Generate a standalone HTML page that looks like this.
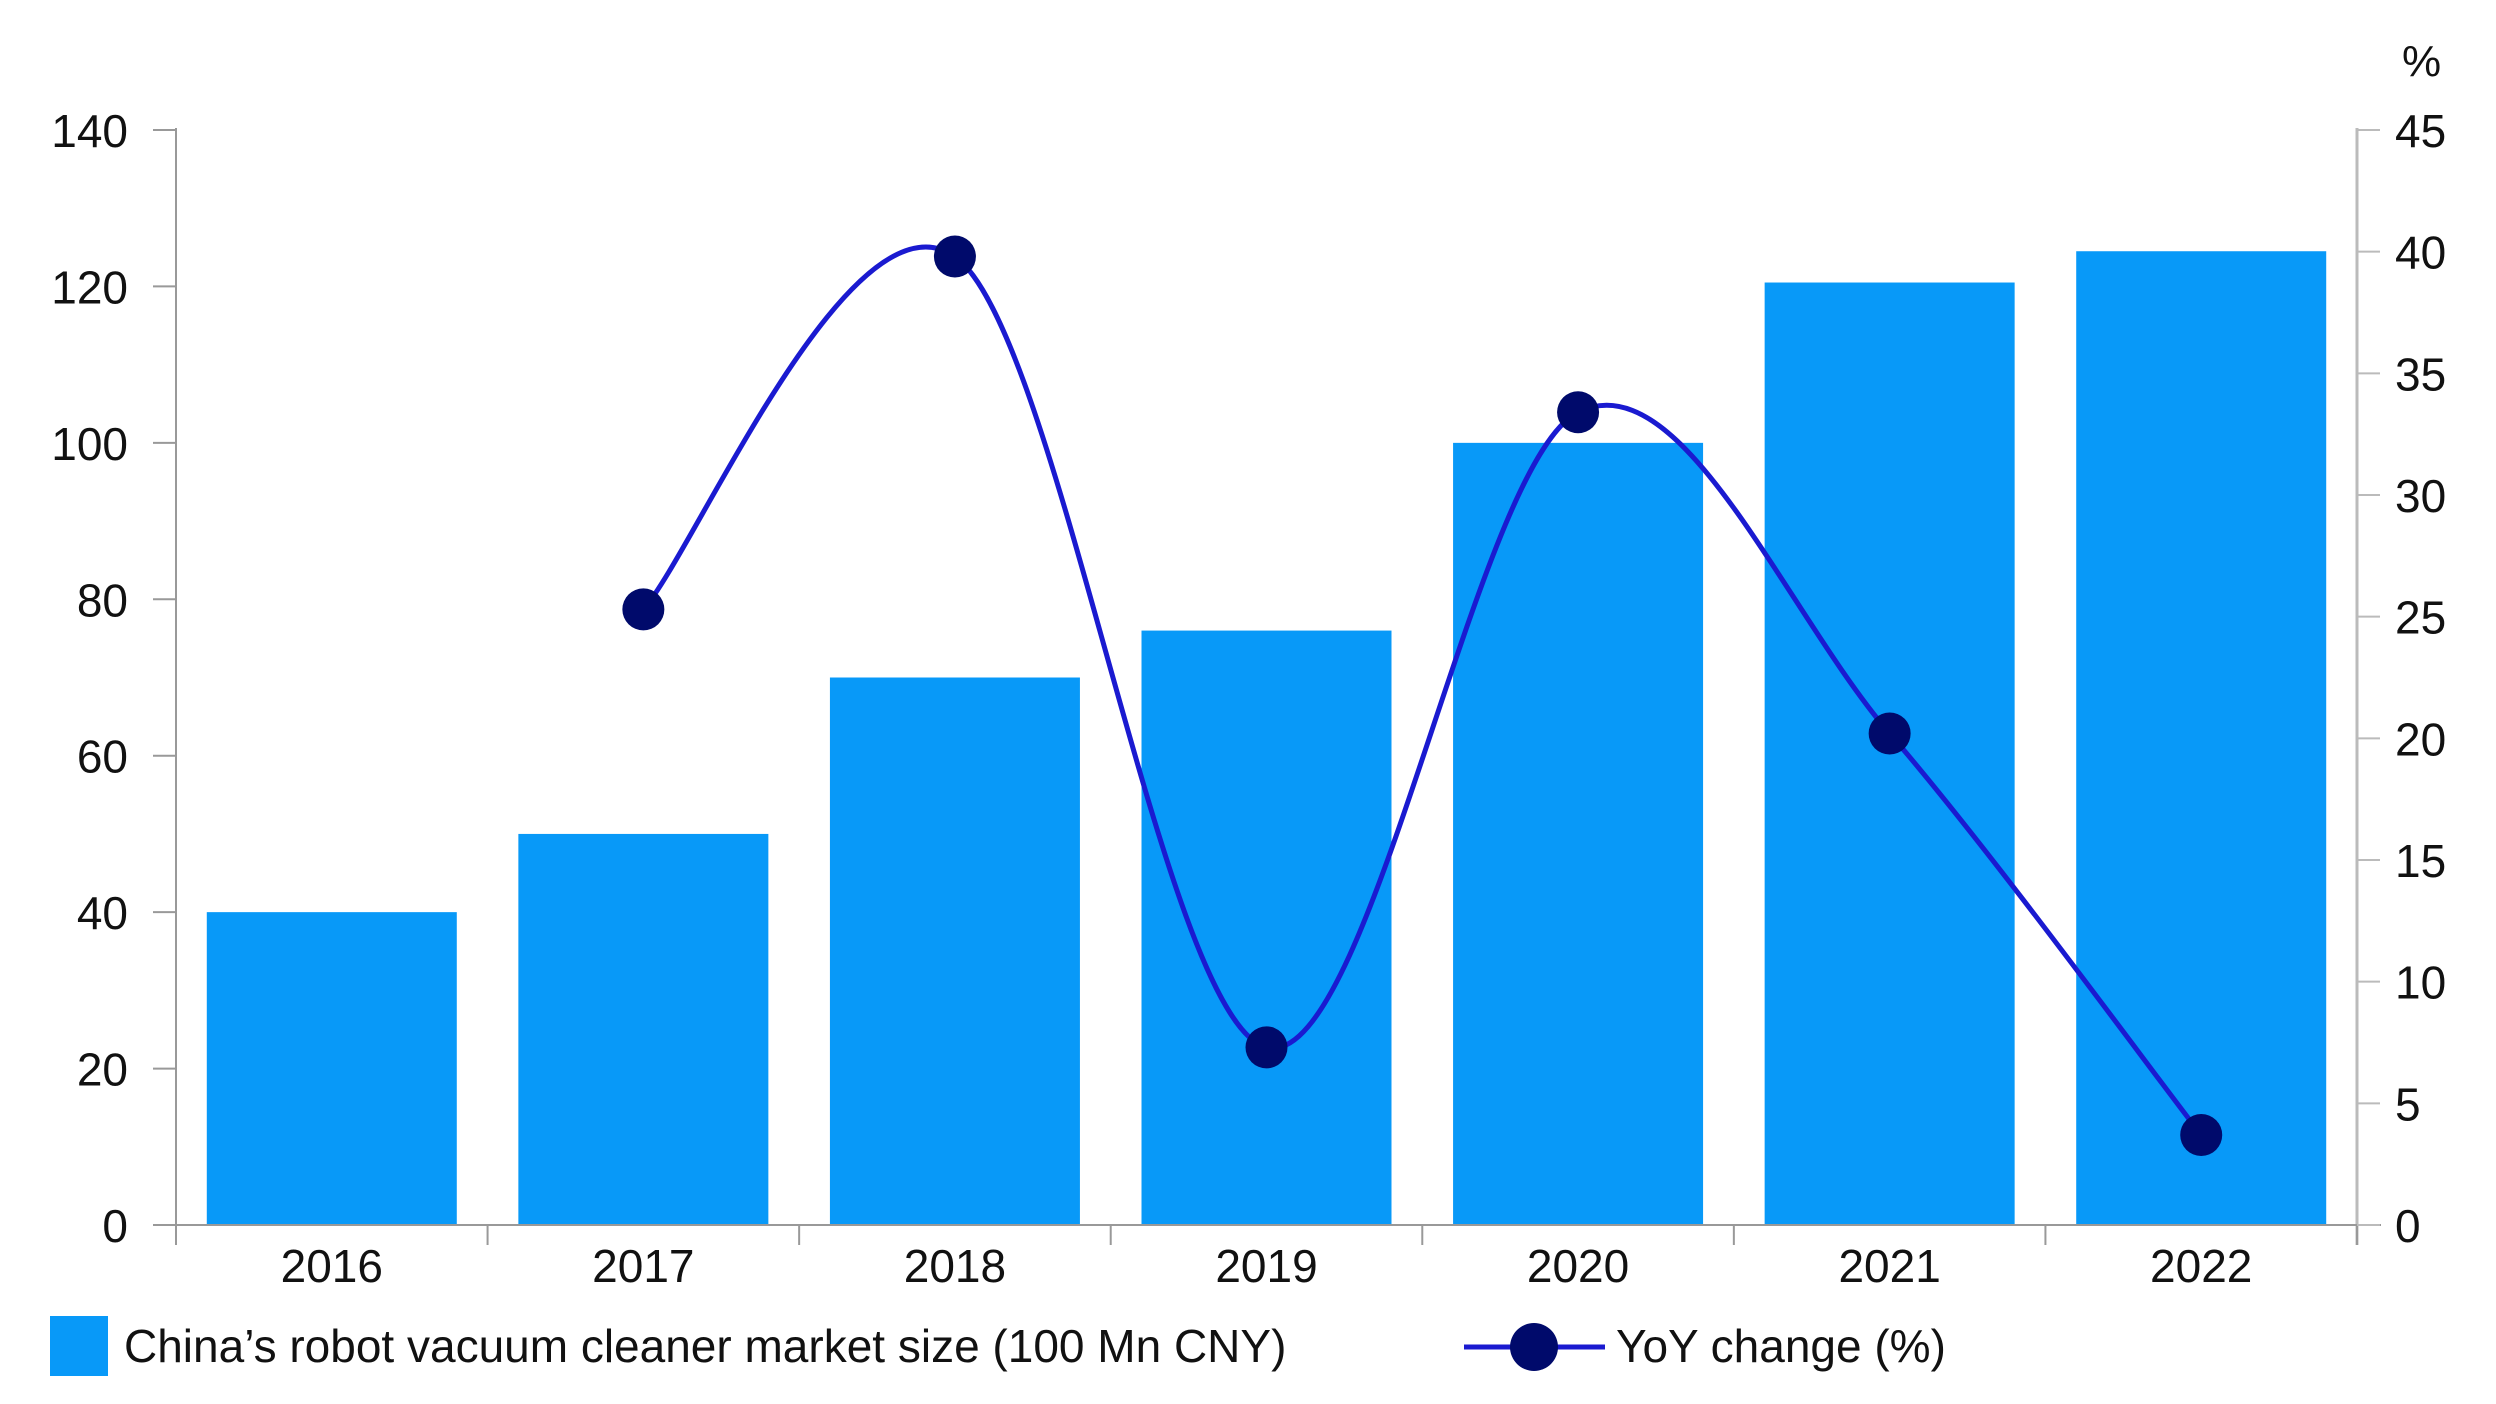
<!DOCTYPE html>
<html><head><meta charset="utf-8"><style>
html,body{margin:0;padding:0;background:#fff;}
svg{display:block;font-family:"Liberation Sans",sans-serif;}
</style></head><body>
<svg id="chart" width="2496" height="1404" viewBox="0 0 2496 1404" xmlns="http://www.w3.org/2000/svg">
<g id="grid"></g>
<g id="bars"></g>
<g id="line"></g>
<g id="axes"></g>
<text x="2402" y="76" font-size="44" fill="#111">%</text>
<g>
<rect x="50" y="1316" width="58" height="60" fill="#0899F8"/>
<text x="124" y="1362" font-size="46" fill="#111">China’s robot vacuum cleaner market size (100 Mn CNY)</text>
<line x1="1464" y1="1347" x2="1605" y2="1347" stroke="#1a1ad0" stroke-width="5"/>
<circle cx="1534" cy="1347" r="24" fill="#000a6b"/>
<text x="1616" y="1362" font-size="46" fill="#111">YoY change (%)</text>
</g>
</svg>
<script>
const categories = ["2016","2017","2018","2019","2020","2021","2022"];
const marketSize = [40, 50, 70, 76, 100, 120.5, 124.5];
const yoyChange = [null, 25.3, 39.8, 7.3, 33.4, 20.2, 3.7];
const leftTicks = [0,20,40,60,80,100,120,140];
const rightTicks = [0,5,10,15,20,25,30,35,40,45];

const NS="http://www.w3.org/2000/svg";
const X0=176, X1=2357, Y0=1225, YT=130;
const bw=(X1-X0)/categories.length;
const yL=v=>Y0-(v/140)*(Y0-YT);
const yR=v=>Y0-(v/45)*(Y0-YT);
const xc=i=>X0+bw*(i+0.5);
function mk(tag,attrs,parent){const e=document.createElementNS(NS,tag);for(const k in attrs)e.setAttribute(k,attrs[k]);parent.appendChild(e);return e;}
const bars=document.getElementById('bars'), axes=document.getElementById('axes'), line=document.getElementById('line');

marketSize.forEach((v,i)=>{
  const r=mk('rect',{x:xc(i)-125,y:yL(v),width:250,height:Y0-yL(v),fill:'#0899F8'},bars);
  
  
});

// axes
let a=mk('line',{x1:X0,y1:YT-2,x2:X0,y2:Y0,stroke:'#999','stroke-width':2},axes);


a=mk('line',{x1:X1,y1:YT-2,x2:X1,y2:Y0+20,stroke:'#bbb','stroke-width':3},axes);


a=mk('line',{x1:X0-20,y1:Y0,x2:X1+24,y2:Y0,stroke:'#999','stroke-width':2},axes);


for(let i=0;i<=categories.length;i++){
  mk('line',{x1:X0+bw*i,y1:Y0,x2:X0+bw*i,y2:Y0+20,stroke:'#999','stroke-width':2},axes);
}
categories.forEach((c,i)=>{
  const t=mk('text',{x:xc(i),y:1282,'font-size':46,'text-anchor':'middle',fill:'#111'},axes);
  t.textContent=c;
  
  
});
leftTicks.forEach(v=>{
  mk('line',{x1:X0-23,y1:yL(v),x2:X0,y2:yL(v),stroke:'#999','stroke-width':2},axes);
  const t=mk('text',{x:128,y:yL(v)+17,'font-size':46,'text-anchor':'end',fill:'#111'},axes);
  t.textContent=v;
  
  
});
rightTicks.forEach(v=>{
  mk('line',{x1:X1,y1:yR(v),x2:X1+23,y2:yR(v),stroke:'#bbb','stroke-width':2},axes);
  const t=mk('text',{x:2395,y:yR(v)+17,'font-size':46,fill:'#111'},axes);
  t.textContent=v;
  
  
});

// smooth line (Catmull-Rom)
const pts=[];
yoyChange.forEach((v,i)=>{if(v!==null)pts.push([xc(i),yR(v)]);});
let d='M'+pts[0][0]+','+pts[0][1];
for(let i=0;i<pts.length-1;i++){
  const p0=pts[Math.max(0,i-1)],p1=pts[i],p2=pts[i+1],p3=pts[Math.min(pts.length-1,i+2)];
  const t=1/6;
  const c1=[p1[0]+(p2[0]-p0[0])*t,p1[1]+(p2[1]-p0[1])*t];
  const c2=[p2[0]-(p3[0]-p1[0])*t,p2[1]-(p3[1]-p1[1])*t];
  d+=` C${c1[0]},${c1[1]} ${c2[0]},${c2[1]} ${p2[0]},${p2[1]}`;
}
const path=mk('path',{d:d,fill:'none',stroke:'#1a1ad0','stroke-width':5},line);


yoyChange.forEach((v,i)=>{
  if(v===null)return;
  const c=mk('circle',{cx:xc(i),cy:yR(v),r:21,fill:'#000a6b'},line);
  
  
});
</script>
</body></html>
